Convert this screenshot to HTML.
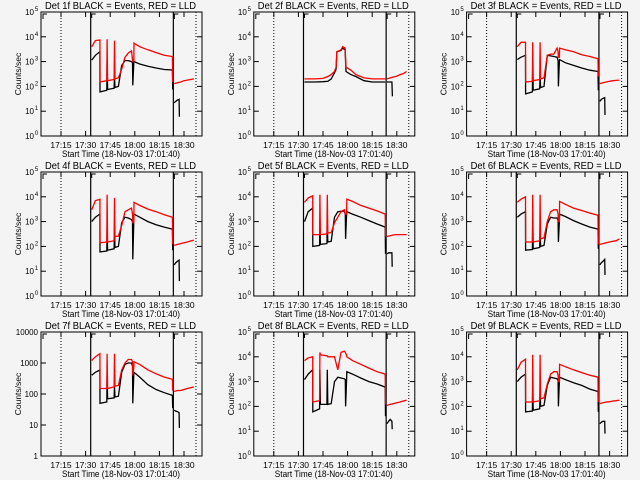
<!DOCTYPE html>
<html><head><meta charset="utf-8">
<style>
html,body{margin:0;padding:0;background:#f4f4f4;}
svg{display:block;font-family:"Liberation Sans",sans-serif;}
</style></head>
<body>
<svg id="chart" width="640" height="480" viewBox="0 0 640 480" xmlns="http://www.w3.org/2000/svg">
<rect width="640" height="480" fill="#f4f4f4"/>
</svg>
<script>
// Time in minutes after 17:00
const tickMinutes = [15, 30, 45, 60, 75, 90];
const tickLabels = ["17:15", "17:30", "17:45", "18:00", "18:15", "18:30"];
const solidLineTimes = [33.1, 83.5];
const dottedLineTimes = [15, 97.3];
const T = [33.7, 36, 38.7, 38.8, 42.9, 43.1, 43.4, 47.4, 47.6, 47.9, 50, 52, 54, 56, 58, 58.6, 58.8, 59.4, 59.5, 63, 68, 73, 78, 82.9, 83.1];
const T2r = [84, 86, 88, 90, 92, 94, 96];
const T2b = [84, 85, 86, 87, 87.2];
const T2p2b = [84, 85, 86, 87, 87.3];
const panelLabels = ["1f","2f","3f","4f","5f","6f","7f","8f","9f"];

const red1 = [4000,7000,7400,150,170,8000,170,190,7000,200,220,500,1500,2200,2700,1200,1000,1000,5500,4000,3000,2300,1800,1600,150];
const black1 = [1150,1800,2500,60,70,1100,75,85,250,90,100,700,1100,1100,1000,900,110,900,1000,800,650,550,480,460,75];
const red1b = [130,140,150,170,180,190,200];
const black1b = [22,25,28,30,6];

const p2Tr = [33.7, 40, 45, 48, 50, 52, 53, 53.5, 56, 57, 58.5, 59, 62, 65, 70, 75, 83];
const red2 = [200,200,210,250,300,400,600,2500,3000,4000,3500,600,450,300,220,200,200];
const black2 = [150,150,155,160,200,350,500,2500,2800,3500,3000,400,300,250,170,150,150];
const red2b = [200,220,240,260,300,330,400];
const black2b = [150,150,150,150,40];

const red3 = [4000,6000,6000,150,160,6000,170,190,6000,200,220,1800,2000,2000,3500,2500,1500,1500,3500,3000,2500,1900,1600,1300,250];
const black3 = [1200,1500,1800,50,60,900,70,80,250,90,100,1800,1700,1600,1500,1100,100,1100,1200,900,700,550,450,400,70];
const red3b = [130,140,150,160,170,175,180];
const black3b = [25,30,33,35,7];

const red4 = [3000,7000,8000,140,150,12000,150,170,9000,250,260,700,2500,3000,3500,2000,900,900,6000,4500,3200,2500,1900,1500,120];
const black4 = [1000,1500,2000,60,65,500,70,80,500,90,100,900,1500,1400,1200,1000,30,1000,2000,1500,1000,750,600,500,70];
const red4b = [110,120,130,140,150,165,180];
const black4b = [18,22,25,28,4];

const red5 = [6000,9000,11000,300,300,12000,300,320,12000,350,360,900,1500,2500,3000,2000,2000,2000,8000,6500,4500,3500,2700,2000,250];
const black5 = [1000,2500,3500,100,110,1000,120,130,1000,150,160,1500,2500,2600,2600,2000,200,2000,2500,2000,1500,1100,800,600,50];
const red5b = [250,270,290,300,300,300,300];
const black5b = [50,55,55,55,15];

const red6 = [6000,8000,10000,150,150,12000,150,170,12000,200,220,1000,2500,3000,3000,2000,1000,1000,6500,5000,3500,2800,2200,1800,120];
const black6 = [1500,2000,2500,70,75,1000,80,90,500,100,110,800,1500,1400,1400,1100,150,1100,2000,1600,1100,800,600,500,80];
const red6b = [120,130,140,150,160,170,200];
const black6b = [18,22,25,30,7];

const red7 = [1200,1600,2000,150,150,2000,150,170,2000,180,190,600,1000,1300,1300,1100,400,700,1100,900,600,450,350,300,130];
const black7 = [400,500,600,50,55,400,70,75,180,80,85,500,900,1000,1000,800,50,450,500,350,200,140,110,90,35];
const red7b = [120,130,130,140,150,160,170];
const black7b = [30,28,27,25,8];

const red8 = [7000,9000,10000,150,170,15000,12000,11000,11000,10000,10000,10000,3000,15000,17000,15000,14000,12000,10000,7000,5000,3500,2500,2000,120];
const black8 = [1200,2000,3000,60,80,3000,120,120,3000,120,130,1000,1500,1400,1300,1200,100,1200,2500,2000,1400,1000,800,600,40];
const red8b = [110,120,130,140,150,165,180];
const black8b = [20,25,30,25,12];

const red9 = [3000,6000,8000,150,150,12000,150,170,12000,200,220,800,2000,2500,2500,1800,1000,1000,5000,4000,3000,2300,1800,1500,150];
const black9 = [1000,1500,2000,60,65,600,70,80,400,100,110,700,1500,1400,1300,1100,100,1100,1500,1200,900,700,500,400,60];
const red9b = [130,140,150,155,165,170,180];
const black9b = [20,23,25,25,8];

const NS = "http://www.w3.org/2000/svg";
const svg = document.getElementById('chart');
function mk(tag, attrs, parent){
  const e = document.createElementNS(NS, tag);
  for (const k in attrs) e.setAttribute(k, attrs[k]);
  (parent||svg).appendChild(e);
  return e;
}
const PW = 161, PH = 124;
const panels = [
  {rT:T, r:red1, b:black1, bT:T, rb:red1b, bb:black1b, bbT:T2b},
  {rT:p2Tr, r:red2, b:black2, bT:p2Tr, rb:red2b, bb:black2b, bbT:T2p2b},
  {rT:T, r:red3, b:black3, bT:T, rb:red3b, bb:black3b, bbT:T2b},
  {rT:T, r:red4, b:black4, bT:T, rb:red4b, bb:black4b, bbT:T2b},
  {rT:T, r:red5, b:black5, bT:T, rb:red5b, bb:black5b, bbT:T2b},
  {rT:T, r:red6, b:black6, bT:T, rb:red6b, bb:black6b, bbT:T2b},
  {rT:T, r:red7, b:black7, bT:T, rb:red7b, bb:black7b, bbT:T2b, dec:4},
  {rT:T, r:red8, b:black8, bT:T, rb:red8b, bb:black8b, bbT:T2b},
  {rT:T, r:red9, b:black9, bT:T, rb:red9b, bb:black9b, bbT:T2b}
];

panels.forEach((p, i) => {
  const col = i % 3, row = Math.floor(i / 3);
  const L = 41 + col * 212.8, Tp = 12 + row * 160;
  const dec = p.dec || 5;
  const xs = t => L + (t - 2.8) * 1.64;
  const ys = v => Tp + PH - Math.log10(v) / dec * PH;
  const g = mk('g', {});
  
  

  const title = mk('text', {x: L + 79.5, y: Tp - 3, 'text-anchor': 'middle', 'font-size': 10, textLength: 151, lengthAdjust: 'spacingAndGlyphs'}, g);
  title.textContent = 'Det ' + panelLabels[i] + ' BLACK = Events, RED = LLD';
  
  

  const box = mk('rect', {x: L, y: Tp, width: PW, height: PH, fill: 'none', stroke: '#000', 'stroke-width': 1}, g);
  
  

  for (let d = 0; d <= dec; d++) {
    const y = ys(Math.pow(10, d));
    mk('line', {x1: L, x2: L + 5, y1: y, y2: y, stroke: '#000'}, g);
    mk('line', {x1: L + PW - 5, x2: L + PW, y1: y, y2: y, stroke: '#000'}, g);
    const tl = mk('text', {x: L - 3, y: y + 3, 'text-anchor': 'end', 'font-size': 8}, g);
    
    
    if (p.dec) {
      tl.textContent = String(Math.pow(10, d));
    } else {
      tl.setAttribute('x', L - 7);
      tl.textContent = '10';
      const sup = mk('text', {x: L - 4.5, y: y - 1, 'text-anchor': 'middle', 'font-size': 6}, g);
      sup.textContent = String(d);
      
      
    }
  }
  tickMinutes.forEach((m, k) => {
    const x = xs(m);
    mk('line', {x1: x, x2: x, y1: Tp + PH, y2: Tp + PH - 5, stroke: '#000'}, g);
    mk('line', {x1: x, x2: x, y1: Tp, y2: Tp + 5, stroke: '#000'}, g);
    const xl = mk('text', {x: x, y: Tp + PH + 12, 'text-anchor': 'middle', 'font-size': 8.5}, g);
    xl.textContent = tickLabels[k];
    
    
  });
  const xt = mk('text', {x: L + 80, y: Tp + PH + 21, 'text-anchor': 'middle', 'font-size': 9.5, textLength: 118, lengthAdjust: 'spacingAndGlyphs'}, g);
  xt.textContent = 'Start Time (18-Nov-03 17:01:40)';
  
  
  const yt = mk('text', {x: 0, y: 0, 'text-anchor': 'middle', 'font-size': 8.5, transform: 'translate(' + (L - 20) + ',' + (Tp + 62) + ') rotate(-90)'}, g);
  yt.textContent = 'Counts/sec';
  
  

  solidLineTimes.forEach(t => {
    const v = mk('line', {x1: xs(t), x2: xs(t), y1: Tp, y2: Tp + PH, stroke: '#000', 'stroke-width': 1.2}, g);
    
    
  });
  dottedLineTimes.forEach(t => {
    const v = mk('line', {x1: xs(t), x2: xs(t), y1: Tp, y2: Tp + PH, stroke: '#000', 'stroke-dasharray': '1,2'}, g);
    
    
  });
  [[L + 1, 0], [xs(solidLineTimes[0]), 1], [xs(solidLineTimes[1]), 0]].forEach(([x, k]) => {
    mk('path', {d: 'M' + (x + 1) + ',' + (Tp + (k ? 6 : 7)) + ' V' + (Tp + 2) + ' H' + (x + 5), fill: 'none', stroke: '#000'}, g);
  });

  function series(ts, vs, color, name) {
    const pts = ts.map((t, k) => xs(t).toFixed(1) + ',' + ys(vs[k]).toFixed(1)).join(' ');
    const pl = mk('polyline', {points: pts, fill: 'none', stroke: color, 'stroke-width': 1.3, 'stroke-linejoin': 'miter'}, g);
    
    
  }
  series(p.bT, p.b, '#000', 'events-line');
  series(p.rT, p.r, '#ff0000', 'lld-line');
  series(p.bbT, p.bb, '#000', 'events-line-late');
  series(T2r, p.rb, '#ff0000', 'lld-line-late');
});
</script>
</body></html>
